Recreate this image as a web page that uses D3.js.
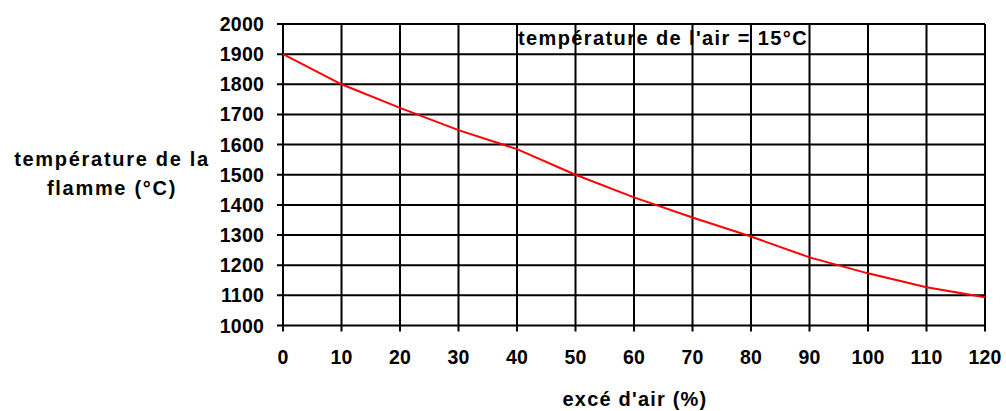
<!DOCTYPE html>
<html><head><meta charset="utf-8">
<script src="https://cdn.jsdelivr.net/npm/d3@7"></script>
<style>body{margin:0;background:#fff}svg{display:block}</style>
</head><body>
<script>
const excessAir = [0,10,20,30,40,50,60,70,80,90,100,110,120];
const flameTemp = [1900,1800,1722,1648,1585,1500,1425,1358,1295,1226,1173,1127,1094];
const xTicks = [0,10,20,30,40,50,60,70,80,90,100,110,120];
const yTicks = [1000,1100,1200,1300,1400,1500,1600,1700,1800,1900,2000];
const yTitleLines = ["température de la","flamme (°C)"];
const xTitle = "excé d'air (%)";
const note = "température de l'air = 15°C";

const W=1006,H=411;
const svg=d3.select("body").append("svg").attr("width",W).attr("height",H);
const x=d3.scaleLinear().domain([0,120]).range([283,985]);
const y=d3.scaleLinear().domain([1000,2000]).range([325.5,24]);
const font="'Liberation Sans', Arial, sans-serif";

// gridlines
const g=svg.append("g");
g.selectAll(".gx").data(xTicks).join("line")
 .attr("x1",d=>x(d)).attr("x2",d=>x(d)).attr("y1",y(2000)).attr("y2",y(1000)+6)
 .attr("stroke","#000").attr("stroke-width",2);
g.selectAll(".gy").data(yTicks).join("line")
 .attr("x1",x(0)-6).attr("x2",x(120)).attr("y1",d=>y(d)).attr("y2",d=>y(d))
 .attr("stroke","#000").attr("stroke-width",2);

// tick labels
svg.append("g").selectAll("text").data(yTicks).join("text")
 .attr("x",264).attr("y",d=>y(d)).attr("dy","0.36em")
 .attr("text-anchor","end").attr("font-family",font).attr("font-weight","bold")
 .attr("font-size",19.5).attr("letter-spacing",0.2).attr("fill","#000").text(d=>d);
svg.append("g").selectAll("text").data(xTicks).join("text")
 .attr("x",d=>x(d)).attr("y",364)
 .attr("text-anchor","middle").attr("font-family",font).attr("font-weight","bold")
 .attr("font-size",19.5).attr("letter-spacing",0.2).attr("fill","#000").text(d=>d);

// line
svg.append("path").datum(excessAir.map((d,i)=>[d,flameTemp[i]]))
 .attr("d",d3.line().x(d=>x(d[0])).y(d=>y(d[1])))
 .attr("fill","none").attr("stroke","#ff0000").attr("stroke-width",2);

// titles
const yt=svg.append("text").attr("font-family",font).attr("font-weight","bold")
 .attr("font-size",20).attr("letter-spacing",1.7).attr("text-anchor","middle").attr("fill","#000");
yTitleLines.forEach((t,i)=>yt.append("tspan").attr("x",112).attr("y",166+i*29).text(t));
svg.append("text").attr("x",635).attr("y",406).attr("text-anchor","middle")
 .attr("font-family",font).attr("font-weight","bold").attr("font-size",20).attr("letter-spacing",1.2)
 .attr("fill","#000").text(xTitle);
svg.append("text").attr("x",663).attr("y",45).attr("text-anchor","middle")
 .attr("font-family",font).attr("font-weight","bold").attr("font-size",20).attr("letter-spacing",1.4)
 .attr("fill","#000").text(note);
</script>
</body></html>
